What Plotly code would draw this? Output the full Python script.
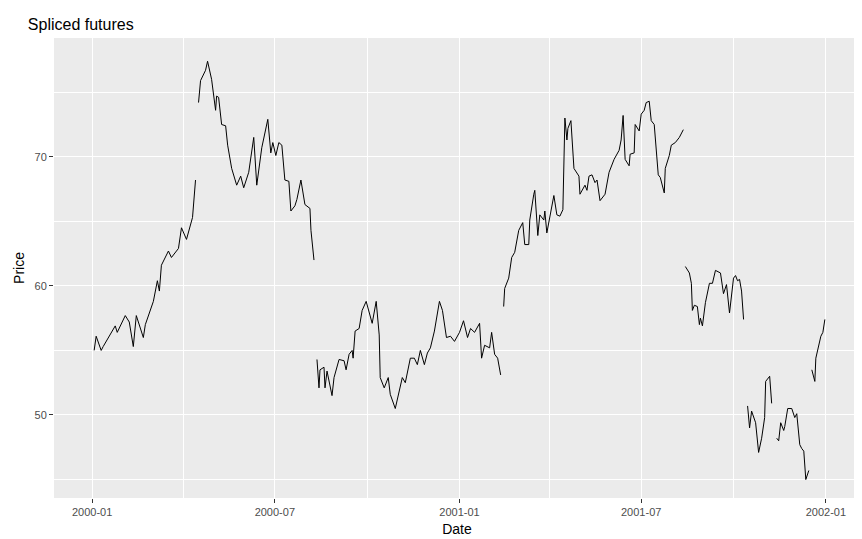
import plotly.graph_objects as go

seg1_dates = ["2000-01-03","2000-01-05","2000-01-10","2000-01-12","2000-01-24","2000-01-26","2000-02-03","2000-02-07","2000-02-11","2000-02-14","2000-02-21","2000-02-23","2000-03-02","2000-03-06","2000-03-08","2000-03-10","2000-03-17","2000-03-20","2000-03-27","2000-03-30","2000-04-04","2000-04-10","2000-04-13"]
seg1_vals = [55.0,56.1,55.0,55.3,56.9,56.4,57.7,57.2,55.3,57.7,56.0,57.0,58.8,60.4,59.6,61.6,62.7,62.2,62.9,64.5,63.6,65.3,68.2]

seg2_dates = ["2000-04-16","2000-04-18","2000-04-23","2000-04-25","2000-04-29","2000-05-03","2000-05-04","2000-05-06","2000-05-09","2000-05-13","2000-05-15","2000-05-19","2000-05-24","2000-05-28","2000-05-31","2000-06-05","2000-06-10","2000-06-13","2000-06-18","2000-06-24","2000-06-27","2000-06-29","2000-07-02","2000-07-05","2000-07-08","2000-07-11","2000-07-15","2000-07-17","2000-07-21","2000-07-23","2000-07-27","2000-07-31","2000-08-05","2000-08-06","2000-08-09"]
seg2_vals = [74.2,75.9,76.7,77.4,76.0,73.6,74.7,74.6,72.5,72.4,70.9,69.1,67.8,68.5,67.6,68.8,71.5,67.8,70.7,72.9,70.3,71.1,70.1,71.1,70.9,68.2,68.1,65.8,66.2,66.7,68.2,66.3,66.0,64.3,62.0]

seg3_dates = ["2000-08-12","2000-08-14","2000-08-15","2000-08-19","2000-08-20","2000-08-22","2000-08-27","2000-08-29","2000-09-03","2000-09-08","2000-09-10","2000-09-13","2000-09-16","2000-09-17","2000-09-19","2000-09-23","2000-09-26","2000-09-30","2000-10-06","2000-10-10","2000-10-13","2000-10-14","2000-10-18","2000-10-22","2000-10-24","2000-10-29","2000-11-05","2000-11-08","2000-11-13","2000-11-17","2000-11-20","2000-11-23","2000-11-27","2000-11-30","2000-12-03","2000-12-07","2000-12-12","2000-12-15","2000-12-19","2000-12-23","2000-12-27","2001-01-01","2001-01-05","2001-01-09","2001-01-12","2001-01-16","2001-01-21","2001-01-23","2001-01-26","2001-01-31","2001-02-02","2001-02-05","2001-02-08","2001-02-11"]
seg3_vals = [54.3,52.1,53.5,53.7,52.1,53.4,51.5,52.9,54.3,54.2,53.5,54.7,55.0,54.4,56.5,56.7,58.1,58.8,57.1,58.8,56.2,52.9,52.1,52.9,51.6,50.5,52.9,52.5,54.4,54.4,53.9,55.0,53.9,54.8,55.2,56.5,58.8,58.1,56.0,56.1,55.7,56.4,57.3,56.0,56.7,56.4,57.1,54.4,55.4,55.2,56.4,54.7,54.4,53.1]

seg4_dates = ["2001-02-14","2001-02-15","2001-02-19","2001-02-22","2001-02-25","2001-03-01","2001-03-05","2001-03-07","2001-03-11","2001-03-12","2001-03-16","2001-03-17","2001-03-20","2001-03-22","2001-03-26","2001-03-27","2001-03-29","2001-04-01","2001-04-05","2001-04-08","2001-04-11","2001-04-14","2001-04-16","2001-04-18","2001-04-19","2001-04-22","2001-04-25","2001-04-30","2001-05-01","2001-05-06","2001-05-08","2001-05-10","2001-05-13","2001-05-16","2001-05-18","2001-05-21","2001-05-26","2001-05-30","2001-06-04","2001-06-09","2001-06-11","2001-06-13","2001-06-15","2001-06-19","2001-06-20","2001-06-24","2001-06-25","2001-06-29","2001-07-01","2001-07-04","2001-07-06","2001-07-09","2001-07-11","2001-07-14","2001-07-16","2001-07-18","2001-07-20","2001-07-24","2001-07-25","2001-07-29","2001-07-31","2001-08-04","2001-08-08","2001-08-12"]
seg4_vals = [58.4,59.8,60.6,62.2,62.6,64.3,64.9,63.2,63.2,65.1,67.1,67.4,63.9,65.5,65.1,65.8,64.1,65.4,67.0,65.5,65.4,65.9,73.0,71.3,72.2,72.8,69.1,68.5,67.1,67.8,67.4,68.5,68.6,68.0,68.2,66.6,67.1,68.8,69.8,70.5,71.3,73.2,69.8,69.3,70.2,70.3,72.5,72.0,73.3,73.6,74.2,74.3,72.8,72.5,70.7,68.6,68.4,67.2,69.1,70.1,70.9,71.1,71.5,72.1]

seg5_dates = ["2001-08-14","2001-08-18","2001-08-20","2001-08-21","2001-08-23","2001-08-26","2001-08-28","2001-08-29","2001-08-31","2001-09-03","2001-09-07","2001-09-10","2001-09-13","2001-09-18","2001-09-21","2001-09-24","2001-09-27","2001-10-01","2001-10-03","2001-10-05","2001-10-07","2001-10-09","2001-10-11"]
seg5_vals = [61.5,61.0,60.2,58.1,58.5,58.4,57.0,57.5,56.9,58.7,60.2,60.2,61.2,61.0,59.4,60.1,57.9,60.6,60.8,60.4,60.5,59.6,57.4]

seg6_dates = ["2001-10-15","2001-10-17","2001-10-19","2001-10-23","2001-10-26","2001-10-29","2001-11-01","2001-11-02","2001-11-06","2001-11-08"]
seg6_vals = [50.7,49.0,50.3,49.4,47.1,48.2,49.8,52.6,53.0,50.9]

seg7_dates = ["2001-11-13","2001-11-15","2001-11-17","2001-11-20","2001-11-21","2001-11-24","2001-11-28","2001-12-01","2001-12-03","2001-12-06","2001-12-08","2001-12-10","2001-12-12","2001-12-15"]
seg7_vals = [48.2,48.0,49.4,48.8,49.1,50.5,50.5,49.8,50.1,47.7,47.4,47.2,45.0,45.7]

seg8_dates = ["2001-12-18","2001-12-21","2001-12-22","2001-12-26","2001-12-27","2001-12-29","2001-12-31"]
seg8_vals = [53.5,52.6,54.4,55.6,56.1,56.4,57.4]

segments = [(seg1_dates, seg1_vals), (seg2_dates, seg2_vals), (seg3_dates, seg3_vals),
            (seg4_dates, seg4_vals), (seg5_dates, seg5_vals), (seg6_dates, seg6_vals),
            (seg7_dates, seg7_vals), (seg8_dates, seg8_vals)]

xs, ys = [], []
for d, v in segments:
    xs += d + [None]
    ys += v + [None]

x_ticks = ["2000-01-01", "2000-07-01", "2001-01-01", "2001-07-01", "2002-01-01"]
x_labels = ["2000-01", "2000-07", "2001-01", "2001-07", "2002-01"]
y_ticks = [50, 60, 70]

fig = go.Figure(go.Scatter(x=xs, y=ys, mode="lines", connectgaps=False,
                           line=dict(color="black", width=1), hoverinfo="skip"))

fig.update_layout(
    width=862, height=539,
    margin=dict(l=46, r=10, t=30, b=49, autoexpand=False),
    paper_bgcolor="white", plot_bgcolor="#EBEBEB",
    font=dict(family="Liberation Sans, Arial", color="#4D4D4D", size=11),
    title=dict(text="Spliced futures", x=0.023, xanchor="left", y=0.97, yanchor="middle",
               font=dict(size=16, color="black")),
    showlegend=False,
)
fig.update_xaxes(
    type="date", range=["1999-11-24", "2002-02-04"], automargin=False,
    tickvals=x_ticks, ticktext=x_labels,
    showgrid=True, gridcolor="white", gridwidth=1.2,
    minor=dict(tickvals=["2000-04-01", "2000-10-01", "2001-04-01", "2001-10-01"],
               showgrid=True, gridcolor="white", gridwidth=0.5),
    ticks="outside", ticklen=4, tickcolor="#333333", zeroline=False,
    title=dict(text="Date", font=dict(size=14, color="black"), standoff=6),
)
fig.update_yaxes(
    range=[43.57, 79.2], tickvals=y_ticks, automargin=False,
    showgrid=True, gridcolor="white", gridwidth=1.2,
    minor=dict(tickvals=[45, 55, 65, 75], showgrid=True, gridcolor="white", gridwidth=0.5),
    ticks="outside", ticklen=4, tickcolor="#333333", zeroline=False,
    title=dict(text="Price", font=dict(size=14, color="black"), standoff=6),
)

fig.write_html("out.html")
